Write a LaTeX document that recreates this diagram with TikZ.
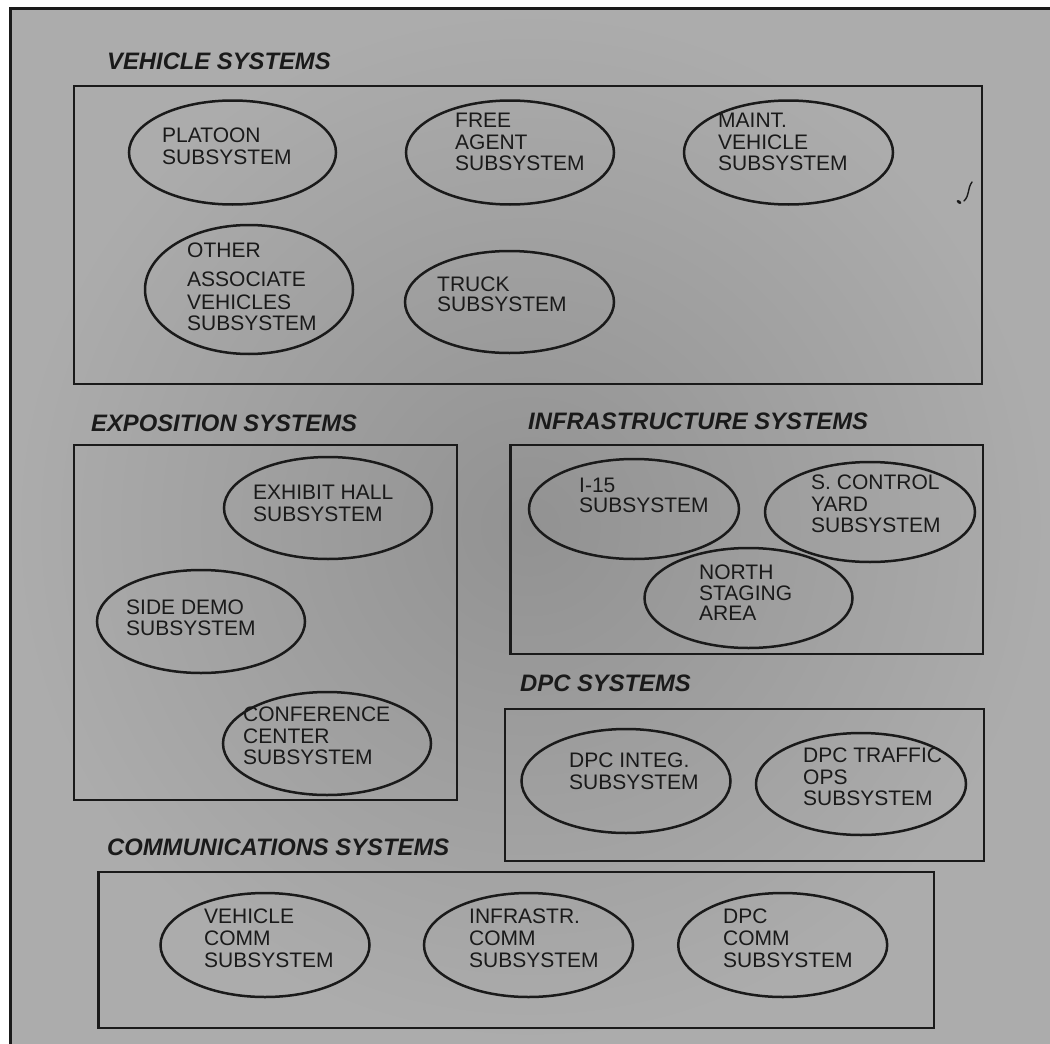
\documentclass[tikz,border=0pt]{standalone}
\usepackage{fontspec}
\setmainfont{Liberation Sans}
\usetikzlibrary{shapes.geometric}
\definecolor{ink}{RGB}{26,26,26}
\definecolor{paperlight}{RGB}{172,172,172}
\definecolor{paperdark}{RGB}{146,146,146}
\begin{document}
\begin{tikzpicture}[x=1pt,y=-1pt,
  sysbox/.style={draw=ink, line width=2.6pt, rectangle, inner sep=0pt},
  sub/.style={draw=ink, line width=2.5pt, ellipse, inner sep=0pt},
  lbl/.style={anchor=north west, inner sep=0pt, align=left, text=ink,
    font=\fontsize{21}{21.5}\selectfont},
  head/.style={anchor=north west, inner sep=0pt, text=ink,
    font=\fontsize{23.8}{26}\selectfont\bfseries\itshape}]
\useasboundingbox (0,0) rectangle (1050,1044);

% sheet and its frame
\fill[white] (0,0) rectangle (1050,1044);
\shade[inner color=paperdark, outer color=paperlight] (10.5,8.5) rectangle (1050,1044);
\draw[ink, line width=2.2pt] (10.5,1044) -- (10.5,8.5) -- (1050,8.5);

% ---------------- vehicle systems ----------------
\node[head] (vehhead) at (107,53) {VEHICLE SYSTEMS};
\node[sysbox, minimum width=908pt, minimum height=298pt] (vehbox) at (528,235) {};
\node[sub, minimum width=207pt, minimum height=104pt] (platoon) at (232.5,152.5) {};
\node[sub, minimum width=208pt, minimum height=104pt] (freeagent) at (510,152.5) {};
\node[sub, minimum width=209pt, minimum height=104pt] (maint) at (788.5,152.5) {};
\node[sub, minimum width=208pt, minimum height=129pt] (other) at (249,289.5) {};
\node[sub, minimum width=209pt, minimum height=102pt] (truck) at (509.5,302) {};
\node[lbl] (platoon-t) at (162,128) {PLATOON\\SUBSYSTEM};
\node[lbl] (freeagent-t) at (455,113) {FREE\\AGENT\\SUBSYSTEM};
\node[lbl] (maint-t) at (718,113) {MAINT.\\VEHICLE\\SUBSYSTEM};
\node[lbl] (other-t) at (187,243) {OTHER\\[7pt]ASSOCIATE\\[1.5pt]VEHICLES\\SUBSYSTEM};
\node[lbl, font=\fontsize{21}{20}\selectfont] (truck-t) at (437,277) {TRUCK\\SUBSYSTEM};
% pen mark on the sheet
\draw[ink, line width=1.4pt, line cap=round] (972,182) .. controls (967,189) and (970,195) .. (964,201);
\fill[ink, rotate around={-35:(959,202)}] (959,202) ellipse (2.6pt and 1.5pt);

% ---------------- exposition systems ----------------
\node[head] (exphead) at (91,415) {EXPOSITION SYSTEMS};
\node[sysbox, minimum width=383pt, minimum height=355pt] (expbox) at (265.5,622.5) {};
\node[sub, minimum width=208pt, minimum height=102pt] (exhibit) at (328,508) {};
\node[sub, minimum width=208pt, minimum height=103pt] (sidedemo) at (201,621.5) {};
\node[sub, minimum width=208pt, minimum height=103pt] (conference) at (327,743.5) {};
\node[lbl] (exhibit-t) at (253,485) {EXHIBIT HALL\\SUBSYSTEM};
\node[lbl, font=\fontsize{21}{20.5}\selectfont] (sidedemo-t) at (126,600) {SIDE DEMO\\SUBSYSTEM};
\node[lbl] (conference-t) at (243,707) {CONFERENCE\\CENTER\\SUBSYSTEM};

% ---------------- infrastructure systems ----------------
\node[head] (infhead) at (528,413) {INFRASTRUCTURE SYSTEMS};
\node[sysbox, minimum width=472.5pt, minimum height=209pt] (infbox) at (746.75,549.5) {};
\node[sub, minimum width=210pt, minimum height=100pt] (i15) at (634,509) {};
\node[sub, minimum width=210pt, minimum height=100pt] (scontrol) at (870,512) {};
\node[sub, minimum width=208pt, minimum height=100pt] (north) at (748.5,598) {};
\node[lbl, font=\fontsize{21}{20}\selectfont] (i15-t) at (579,478) {I-15\\SUBSYSTEM};
\node[lbl] (scontrol-t) at (811,475) {S. CONTROL\\YARD\\SUBSYSTEM};
\node[lbl, font=\fontsize{21}{20.5}\selectfont] (north-t) at (699,565) {NORTH\\STAGING\\AREA};

% ---------------- dpc systems ----------------
\node[head] (dpchead) at (520,675) {DPC SYSTEMS};
\node[sysbox, minimum width=479pt, minimum height=152pt] (dpcbox) at (744.5,785) {};
\node[sub, minimum width=209pt, minimum height=104pt] (dpcinteg) at (626,781) {};
\node[sub, minimum width=210pt, minimum height=102pt] (dpctraffic) at (861,784) {};
\node[lbl] (dpcinteg-t) at (569,753) {DPC INTEG.\\SUBSYSTEM};
\node[lbl] (dpctraffic-t) at (803,748) {DPC TRAFFIC\\OPS\\SUBSYSTEM};

% ---------------- communications systems ----------------
\node[head] (comhead) at (107,839) {COMMUNICATIONS SYSTEMS};
\node[sysbox, minimum width=835.6pt, minimum height=156pt] (combox) at (516.2,950) {};
\node[sub, minimum width=209pt, minimum height=104pt] (vehcomm) at (265,945) {};
\node[sub, minimum width=209pt, minimum height=104pt] (infcomm) at (528.5,945) {};
\node[sub, minimum width=209pt, minimum height=104pt] (dpccomm) at (782.7,945) {};
\node[lbl, font=\fontsize{21}{22}\selectfont] (vehcomm-t) at (204,909) {VEHICLE\\COMM\\SUBSYSTEM};
\node[lbl, font=\fontsize{21}{22}\selectfont] (infcomm-t) at (469,909) {INFRASTR.\\COMM\\SUBSYSTEM};
\node[lbl, font=\fontsize{21}{22}\selectfont] (dpccomm-t) at (723,909) {DPC\\COMM\\SUBSYSTEM};
\end{tikzpicture}
\end{document}
